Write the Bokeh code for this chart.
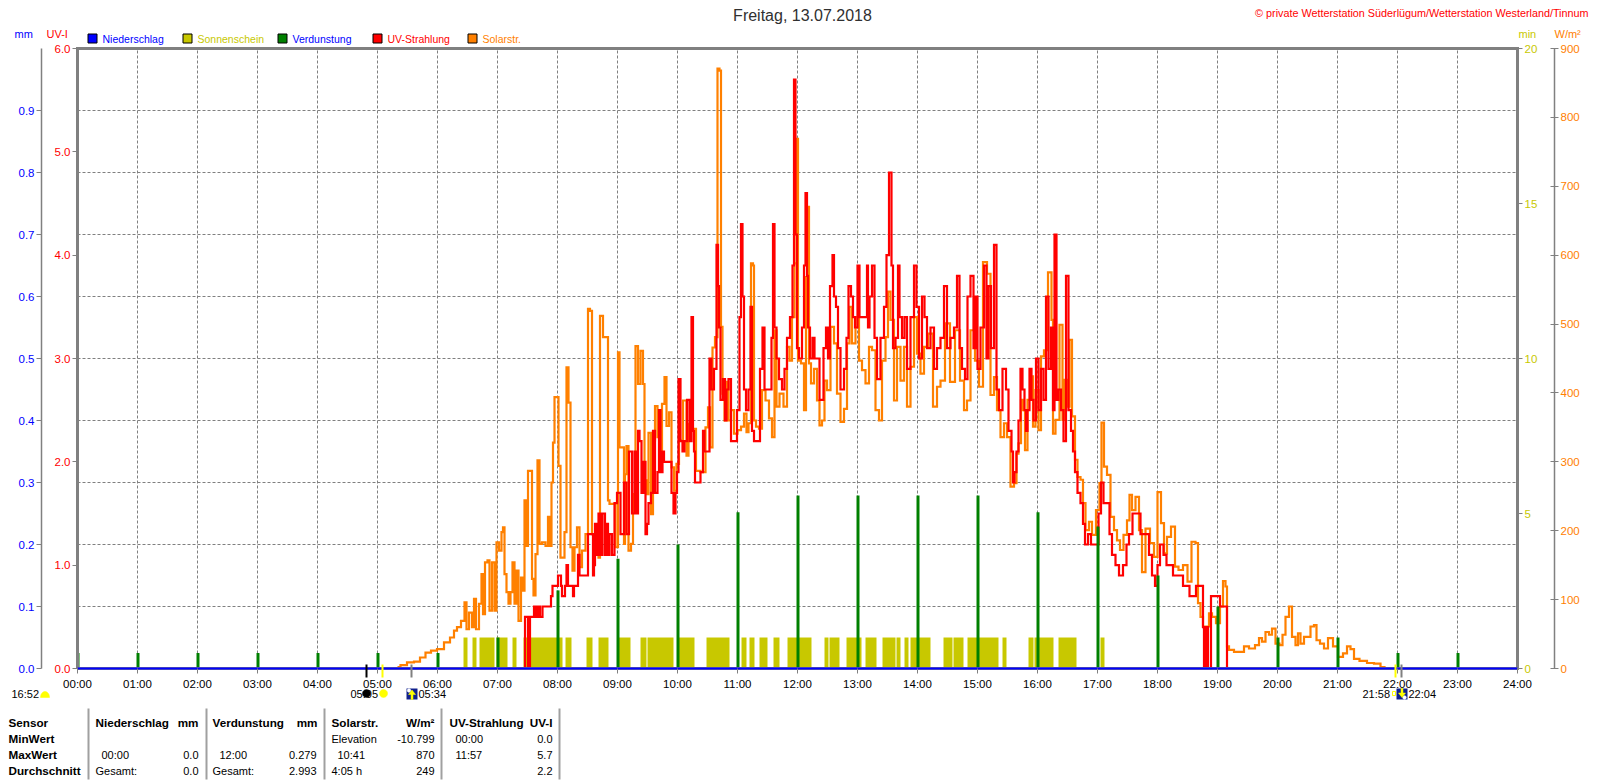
import numpy as np
from bokeh.plotting import figure
from bokeh.embed import file_html
from bokeh.resources import INLINE
from bokeh.models import (Range1d, LinearAxis, FixedTicker, Label, BoxAnnotation, PolyAnnotation)

title = "Freitag, 13.07.2018"
copyright_text = "© private Wetterstation Süderlügum/Wetterstation Westerland/Tinnum"
hour_labels = ["%02d:00" % h for h in range(25)]
hour_minutes = [h * 60 for h in range(25)]
uv_ticks = [0, 1, 2, 3, 4, 5, 6]
mm_ticks = [0, .1, .2, .3, .4, .5, .6, .7, .8, .9]
sun_ticks = [0, 5, 10, 15, 20]
solar_ticks = [0, 100, 200, 300, 400, 500, 600, 700, 800, 900]
grid_uv = [.6, 1.2, 1.8, 2.4, 3.0, 3.6, 4.2, 4.8, 5.4]

precip_minutes = [0, 1440]
precip_values = [0.0, 0.0]

evap_minutes = [h * 60 for h in range(24)]
evap_values = [.025, .025, .025, .025, .025, .025, .025, .05, .126, .177, .2, .252,
               .279, .279, .279, .279, .252, .229, .15, .1, .05, .05, .025, .025]

sun_starts = [386, 395, 402, 419, 435, 446, 488, 509, 521, 541, 563, 570, 600, 629, 664, 672, 682, 696, 710, 747,
              752, 769, 788, 805, 819, 827, 833, 866, 876, 890, 925, 951, 957, 981, 1023]
sun_ends = [390, 399, 417, 430, 439, 485, 494, 515, 531, 553, 569, 596, 617, 652, 669, 677, 690, 702, 734, 751,
            762, 784, 799, 818, 823, 831, 853, 875, 886, 921, 929, 956, 976, 999, 1027]
sun_values = [1] * len(sun_starts)

solar_minutes = [320, 326, 333, 340, 345, 351, 356, 363, 370, 375, 378, 381, 386, 388, 390, 393, 396, 397, 400, 403, 405, 406,
    409, 411, 413, 416, 418, 420, 423, 425, 426, 428, 430, 432, 434, 436, 438, 440, 442, 445, 446, 448, 450, 451, 454, 455,
    457, 459, 461, 463, 466, 470, 471, 473, 475, 476, 478, 480, 482, 484, 486, 488, 490, 492, 494, 496, 498, 501, 503, 506,
    510, 511, 514, 515, 520, 522, 523, 525, 526, 530, 531, 533, 536, 540, 541, 543, 546, 547, 548, 550, 552, 555, 556, 560,
    561, 565, 566, 568, 570, 572, 575, 576, 579, 581, 583, 586, 588, 590, 593, 595, 598, 600, 603, 608, 610, 612, 617, 620,
    626, 630, 631, 634, 636, 639, 641, 643, 644, 646, 648, 650, 652, 655, 658, 662, 665, 668, 670, 672, 675, 676, 677, 680,
    683, 686, 690, 693, 696, 698, 700, 704, 708, 711, 713, 716, 718, 720, 721, 726, 727, 730, 731, 732, 735, 738, 741, 743,
    746, 748, 751, 755, 758, 761, 765, 768, 771, 773, 776, 780, 783, 786, 790, 793, 796, 800, 803, 806, 810, 811, 815, 818,
    821, 825, 828, 831, 835, 838, 841, 845, 848, 853, 858, 861, 865, 870, 875, 880, 885, 888, 891, 895, 900, 903, 908, 911,
    915, 918, 921, 925, 928, 931, 935, 938, 940, 942, 945, 946, 949, 951, 955, 956, 960, 962, 965, 968, 973, 975, 976, 980,
    984, 986, 988, 991, 993, 996, 999, 1001, 1005, 1006, 1010, 1013, 1016, 1021, 1023, 1025, 1028, 1031, 1035, 1038, 1041,
    1044, 1048, 1051, 1053, 1056, 1060, 1063, 1066, 1070, 1075, 1078, 1082, 1085, 1088, 1091, 1096, 1099, 1103, 1108, 1112,
    1116, 1120, 1121, 1125, 1126, 1130, 1133, 1136, 1141, 1144, 1147, 1149, 1150, 1153, 1160, 1165, 1168, 1175, 1180, 1183,
    1186, 1190, 1193, 1196, 1200, 1204, 1206, 1210, 1213, 1216, 1220, 1221, 1225, 1228, 1231, 1235, 1238, 1240, 1245, 1248,
    1253, 1258, 1263, 1268, 1271, 1275, 1278, 1286, 1293, 1300, 1306, 1308, 1310]
solar_values = [2, 5, 9, 10, 16, 23, 26, 28, 38, 45, 55, 60, 69, 96, 57, 81, 60, 101, 57, 94, 137, 79,
    154, 157, 84, 154, 84, 183, 171, 198, 205, 137, 111, 94, 111, 154, 94, 142, 69, 132, 113, 244, 178, 287, 287, 130,
    106, 166, 302, 181, 183, 178, 220, 178, 270, 328, 394, 394, 294, 161, 161, 198, 437, 386, 176, 142, 176, 205, 147, 171,
    195, 522, 519, 195, 181, 161, 512, 512, 481, 481, 244, 239, 239, 176, 459, 321, 321, 181, 282, 323, 171, 181, 253, 468,
    413, 461, 413, 273, 253, 342, 224, 331, 381, 336, 311, 384, 423, 352, 372, 292, 258, 297, 331, 389, 309, 355, 348, 287,
    285, 350, 379, 321, 466, 481, 871, 868, 496, 399, 360, 416, 360, 375, 341, 346, 351, 370, 343, 356, 588, 585, 360, 351,
    348, 404, 389, 363, 336, 491, 380, 399, 380, 467, 447, 510, 588, 769, 447, 443, 375, 568, 670, 443, 414, 435, 389, 353,
    360, 418, 404, 496, 472, 399, 358, 377, 472, 525, 472, 510, 447, 433, 414, 467, 462, 375, 360, 447, 481, 547, 506, 389,
    467, 418, 467, 380, 438, 510, 457, 428, 467, 486, 380, 409, 418, 501, 416, 491, 418, 375, 389, 491, 447, 409, 590, 573,
    397, 423, 375, 336, 356, 336, 264, 269, 312, 327, 390, 375, 317, 390, 424, 351, 404, 346, 453, 462, 575, 506, 341, 361,
    499, 361, 419, 380, 477, 366, 303, 278, 274, 240, 201, 213, 194, 230, 269, 357, 293, 281, 220, 201, 186,
    172, 194, 215, 252, 230, 249, 201, 140, 203, 182, 162, 256, 211, 167, 191, 206, 148, 143, 150, 126,
    184, 182, 95, 75, 61, 61, 80, 75, 66, 90, 127, 119, 32, 27, 24, 24, 32, 29, 34, 44,
    39, 53, 49, 58, 36, 34, 49, 75, 90, 46, 34, 51, 36, 46, 46, 61, 63, 41, 36, 29,
    44, 32, 17, 22, 32, 28, 14, 11, 8, 7, 2, 0, 0]

uv_minutes = [447, 448, 450, 451, 452, 453, 456, 457, 460, 461, 464, 466, 473, 474, 476, 480, 481, 483, 484, 485, 487, 488, 490, 491,
    495, 496, 497, 500, 501, 503, 510, 511, 515, 516, 517, 518, 520, 522, 524, 526, 529, 530, 531, 533, 536, 538, 541, 545, 548,
    550, 553, 556, 558, 560, 561, 563, 565, 567, 569, 570, 572, 575, 576, 579, 581, 582, 584, 586, 587, 593, 595, 597, 599, 600,
    602, 604, 606, 608, 611, 613, 615, 616, 617, 618, 621, 625, 626, 628, 631, 633, 635, 638, 640, 641, 642, 644, 647, 648, 650,
    652, 655, 658, 661, 663, 664, 666, 667, 670, 672, 674, 675, 678, 681, 684, 686, 688, 693, 695, 696, 698, 700, 703, 706, 708,
    711, 714, 716, 717, 719, 720, 723, 726, 727, 729, 730, 731, 734, 736, 738, 741, 743, 745, 747, 750, 751, 754, 756, 757, 760,
    761, 765, 768, 770, 772, 775, 776, 779, 781, 783, 789, 790, 791, 793, 796, 798, 801, 805, 808, 810, 813, 815, 816, 820, 821,
    823, 826, 828, 831, 835, 838, 840, 843, 846, 848, 851, 855, 858, 861, 865, 868, 871, 875, 878, 881, 883, 886, 889, 891, 895,
    897, 899, 901, 905, 908, 910, 912, 915, 918, 920, 923, 927, 930, 932, 933, 935, 936, 938, 940, 942, 944, 946, 948, 949, 951,
    953, 955, 957, 960, 962, 965, 967, 970, 972, 975, 976, 978, 980, 982, 985, 987, 990, 992, 995, 996, 999, 1001, 1005, 1006,
    1009, 1012, 1015, 1020, 1022, 1025, 1027, 1031, 1033, 1036, 1040, 1043, 1048, 1050, 1053, 1057, 1061, 1065, 1070, 1073, 1076,
    1079, 1081, 1084, 1088, 1090, 1095, 1096, 1105, 1106, 1111, 1113, 1118, 1119, 1125, 1126, 1127, 1128, 1129, 1130, 1131, 1136,
    1137, 1148, 1149, 1150]
uv_values = [0, .5, .5, 0, 0, .5, .5, .6, .5, .6, .5, .6, .6, .7, .8, .8, .9, .9, .8, .7, .7, .8, 1.0, .8,
    .8, .7, .8, .8, 1.1, .9, .9, 1.3, 1.3, .9, 1.0, 1.4, 1.1, 1.5, 1.1, 1.5, 1.1, 1.4, 1.1, 1.3, 1.1, 1.6, 1.7, 1.3, 1.8,
    1.3, 2.1, 1.5, 2.1, 1.5, 2.3, 2.2, 1.7, 2.0, 1.3, 1.4, 1.6, 1.7, 2.3, 1.7, 1.9, 2.5, 1.9, 2.1, 2.0, 2.0, 1.7, 1.5, 1.7, 1.9,
    2.8, 2.2, 2.1, 2.2, 2.6, 2.2, 3.4, 2.3, 2.1, 1.8, 1.8, 1.9, 2.3, 2.1, 2.1, 3.0, 2.7, 2.9, 4.1, 3.7, 3.3, 2.6, 2.8, 2.4, 2.7,
    2.8, 2.2, 2.2, 2.5, 3.4, 4.3, 3.6, 2.7, 2.5, 2.7, 3.5, 2.3, 2.2, 2.2, 2.9, 3.3, 2.7, 2.7, 3.2, 4.3, 3.3, 3.0, 2.8, 2.7, 2.9,
    3.2, 3.4, 3.9, 5.7, 4.2, 3.1, 3.0, 3.3, 3.9, 4.6, 3.8, 3.3, 3.0, 3.2, 3.0, 3.0, 2.6, 2.6, 3.1, 3.3, 3.0, 3.7, 4.0, 3.6, 3.5,
    3.1, 2.7, 2.9, 3.2, 3.7, 3.6, 3.4, 3.3, 3.9, 3.4, 3.4, 3.9, 3.3, 3.6, 3.9, 3.2, 2.8, 3.2, 3.5, 4.0, 4.8, 3.9, 3.1, 3.2, 3.9,
    3.4, 3.2, 3.4, 2.9, 3.4, 3.9, 3.5, 3.0, 3.6, 3.4, 3.1, 3.3, 2.9, 3.1, 3.2, 3.7, 3.1, 3.2, 3.3, 3.8, 3.1, 2.9, 2.8, 3.6, 3.8,
    3.1, 3.6, 2.9, 3.3, 3.9, 3.0, 3.7, 3.1, 4.1, 2.7, 2.5, 2.9, 2.7, 2.3, 2.3, 2.1, 1.8, 1.9, 2.1, 2.4, 2.9, 2.7, 2.5, 2.3, 2.5,
    2.9, 2.6, 2.4, 3.0, 2.5, 2.9, 2.6, 3.6, 2.9, 3.3, 2.5, 4.2, 2.6, 2.7, 2.5, 2.2, 3.8, 2.5, 2.3, 2.1, 1.9, 1.7, 1.6, 1.4,
    1.2, 1.3, 1.2, 1.2, 1.5, 1.8, 1.6, 1.6, 1.3, 1.1, 1.0, .9, 1.0, 1.2, 1.3, 1.5, 1.5, 1.3, 1.3, 1.1, .9,
    .8, 1.0, 1.2, 1.1, 1.0, 1.0, .9, .9, .8, .8, .7, .7, .8, .8, .4, 0, .4, 0, .4, 0, .7, .7,
    .6, .6, 0, 0]

event_minutes = [289, 305, 334, 1318, 1324]
event_colors = ["#000000", "#ffff00", "#808080", "#ffff00", "#808080"]

OLIVE, ORANGE, RED, GREEN, BLUE, GRAY = "#c8c800", "#ff8000", "#ff0000", "#008000", "#0000ff", "#808080"
FONT = "Liberation Sans"
W, H = 1600, 780
FL, FT, FR, FB = 77, 48, 1517, 668   # chart area on the page


def outer(top):
    """Range that maps 0..top onto the chart area while the frame fills the whole canvas."""
    return Range1d(-top * (H - FB) / (FB - FT), top + top * FT / (FB - FT))


p = figure(width=W, height=H, frame_width=W, frame_height=H,
           min_border_left=0, min_border_right=0, min_border_top=0, min_border_bottom=0,
           x_range=Range1d(-FL, W - FL), y_range=outer(6),
           output_backend="svg", toolbar_location=None, x_axis_location=None, y_axis_location=None)
p.background_fill_color = "white"
p.border_fill_color = "white"
p.outline_line_color = None
p.xgrid.visible = False
p.ygrid.visible = False
p.extra_y_ranges = {"mm": outer(1), "sun": outer(20), "solar": outer(900)}


def style(ax, color, ticks, fmt=None):
    ax.ticker = FixedTicker(ticks=ticks)
    ax.major_label_text_color = color
    ax.major_label_text_font = FONT
    ax.major_label_text_font_size = "11.5px"
    ax.axis_line_color = GRAY
    ax.major_tick_line_color = GRAY
    ax.minor_tick_line_color = None
    ax.major_tick_in = 0
    ax.major_tick_out = 5
    ax.major_label_standoff = 2
    if fmt:
        ax.major_label_overrides = {t: fmt % t for t in ticks}


x_ax = LinearAxis(fixed_location=0, bounds=(0, 1440))
style(x_ax, "#000000", hour_minutes)
x_ax.axis_line_color = None
x_ax.major_label_overrides = dict(zip(hour_minutes, hour_labels))
x_ax.major_label_standoff = 4
p.add_layout(x_ax, "below")

uv_ax = LinearAxis(fixed_location=0, bounds=(0, 6))
style(uv_ax, RED, uv_ticks, "%.1f")
uv_ax.axis_line_color = None
p.add_layout(uv_ax, "left")

mm_ax = LinearAxis(y_range_name="mm", fixed_location=41 - FL, bounds=(0, 1))
style(mm_ax, BLUE, mm_ticks, "%.1f")
mm_ax.axis_line_width = 1.5
p.add_layout(mm_ax, "left")

sun_ax = LinearAxis(y_range_name="sun", fixed_location=FR - FL, bounds=(0, 20))
style(sun_ax, OLIVE, sun_ticks, "%d")
sun_ax.axis_line_color = None
p.add_layout(sun_ax, "right")

solar_ax = LinearAxis(y_range_name="solar", fixed_location=1554 - FL, bounds=(0, 900))
style(solar_ax, ORANGE, solar_ticks, "%d")
solar_ax.major_tick_in = 4
solar_ax.major_tick_out = 4
solar_ax.axis_line_width = 1.5
p.add_layout(solar_ax, "right")

p.segment(x0=hour_minutes[1:-1], x1=hour_minutes[1:-1], y0=0, y1=6, line_color=GRAY, line_dash="3 2", line_width=1)
p.segment(x0=0, x1=1440, y0=grid_uv, y1=grid_uv, line_color=GRAY, line_dash="3 2", line_width=1)

p.quad(left=sun_starts, right=sun_ends, bottom=0, top=sun_values, y_range_name="sun",
       fill_color=OLIVE, line_color=None)
p.step(solar_minutes, solar_values, mode="center", y_range_name="solar", line_color=ORANGE, line_width=2.2,
       line_join="miter")
p.step(uv_minutes, uv_values, mode="center", line_color=RED, line_width=2.2, line_join="miter")
p.vbar(x=[m + 0.5 for m in evap_minutes], top=evap_values, bottom=0, width=3, y_range_name="mm",
       fill_color=GREEN, line_color=None)
p.line([0, 0, 1440, 1440, 0], [0, 6, 6, 0, 0], line_color=GRAY, line_width=3, line_join="miter")
p.line(precip_minutes, precip_values, y_range_name="mm", line_color=BLUE, line_width=2)


def txt(x, y, s, color="#000000", size=11, bold=False, align="left"):
    p.add_layout(Label(x=x, y=H - y, x_units="screen", y_units="screen", text=s, text_color=color,
                       text_font=FONT, text_font_size="%gpx" % size, text_align=align, text_baseline="middle",
                       text_font_style="bold" if bold else "normal"))


def box(x0, y0, x1, y1, fill, line=None):
    p.add_layout(BoxAnnotation(left=x0, right=x1, bottom=H - y1, top=H - y0,
                               left_units="screen", right_units="screen", bottom_units="screen", top_units="screen",
                               fill_color=fill, fill_alpha=1, line_color=line, line_alpha=1, line_width=1 if line else 0))


def poly(xs, ys, fill):
    p.add_layout(PolyAnnotation(xs=[float(x) for x in xs], ys=[float(H - y) for y in ys],
                                xs_units="screen", ys_units="screen",
                                fill_color=fill, fill_alpha=1, line_color=fill, line_alpha=1, line_width=0.5))


def disc(cx, cy, r, fill):
    a = np.linspace(0, 2 * np.pi, 24, endpoint=False)
    poly(cx + r * np.cos(a), cy + r * np.sin(a), fill)


txt(802, 15, title, "#303030", 16, align="center")
txt(1588, 12, copyright_text, RED, 10.8, align="right")
txt(14, 33, "mm", BLUE)
txt(46, 33, "UV-I", RED)
txt(1518, 33, "min", OLIVE)
txt(1554, 33, "W/m²", ORANGE)

legend_x = [87.5, 182.5, 277.5, 372.5, 467.5]
legend_names = ["Niederschlag", "Sonnenschein", "Verdunstung", "UV-Strahlung", "Solarstr."]
legend_fill = [BLUE, OLIVE, GREEN, RED, ORANGE]
legend_text = [BLUE, OLIVE, BLUE, RED, ORANGE]
for lx, nm, fc, tc in zip(legend_x, legend_names, legend_fill, legend_text):
    box(lx, 33.5, lx + 9, 42.5, fc, "#000000")
    txt(lx + 14.5, 38, nm, tc, 10.5)

# sun and moon rise and set marks under the axis
for m, c in zip(event_minutes, event_colors):
    p.add_layout(BoxAnnotation(left=m - 1, right=m + 1, bottom=H - 677, top=H - 664,
                               left_units="data", right_units="data", bottom_units="screen", top_units="screen",
                               fill_color=c, fill_alpha=1, line_color=None))

txt(11, 693, "16:52")
a = np.linspace(np.pi, 2 * np.pi, 12)
poly(44.5 + 4.5 * np.cos(a), 697 + 6 * np.sin(a), "#ffff00")
txt(350, 693, "05:05")
disc(366, 693, 4, "#000000")
disc(383, 693, 4, "#ffff00")
box(406, 688, 417, 699, "#10208c")
disc(408.5, 690, 1.8, "#ffffff")
poly([411.5, 415, 412.5, 412.5, 410.5, 410.5, 408], [689.5, 694, 694, 699, 699, 694, 694], "#ffff00")
txt(418, 693, "05:34")
txt(1362, 693, "21:58")
box(1392, 691, 1395, 695, "#ffffff", "#ffff00")
box(1396, 688, 1407, 699, "#10208c")
disc(1404, 697, 1.8, "#ffffff")
poly([1401.5, 1405, 1402.5, 1402.5, 1400.5, 1400.5, 1398], [697, 692.5, 692.5, 688, 688, 692.5, 692.5], "#ffff00")
txt(1408, 693, "22:04")

# summary table under the chart
for sx in [88, 206, 324, 441, 559]:
    box(sx - 1, 708, sx + 1, 779, "#a0a0a0")
R = [722, 738, 754, 770]
for lab, r in zip(["Sensor", "MinWert", "MaxWert", "Durchschnitt"], R):
    txt(8, r, lab, "#000000", 11.7, True)
for x, s in [(95, "Niederschlag"), (212, "Verdunstung"), (331, "Solarstr."), (449, "UV-Strahlung")]:
    txt(x, R[0], s, "#000000", 11.7, True)
for x, s in [(198, "mm"), (317, "mm"), (434, "W/m²"), (552, "UV-I")]:
    txt(x, R[0], s, "#000000", 11.7, True, "right")
txt(331, R[1], "Elevation")
txt(434, R[1], "-10.799", align="right")
txt(455, R[1], "00:00")
txt(552, R[1], "0.0", align="right")
txt(101, R[2], "00:00")
txt(198, R[2], "0.0", align="right")
txt(219, R[2], "12:00")
txt(316, R[2], "0.279", align="right")
txt(337, R[2], "10:41")
txt(434, R[2], "870", align="right")
txt(455, R[2], "11:57")
txt(552, R[2], "5.7", align="right")
txt(95, R[3], "Gesamt:")
txt(198, R[3], "0.0", align="right")
txt(212, R[3], "Gesamt:")
txt(316, R[3], "2.993", align="right")
txt(331, R[3], "4:05 h")
txt(434, R[3], "249", align="right")
txt(552, R[3], "2.2", align="right")

open("out.html", "w").write(file_html(p, INLINE))
